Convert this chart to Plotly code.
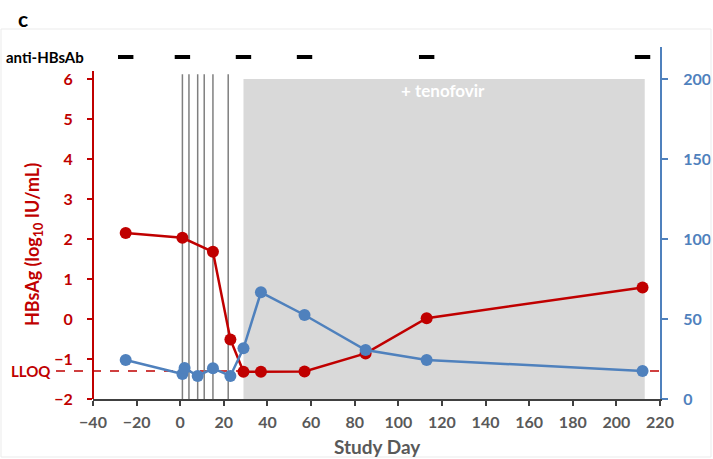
import plotly.graph_objects as go

# ---- data ----
hbsag_days = [-25, 1, 15, 23, 29, 37, 57, 85, 113, 212]
hbsag_log = [2.15, 2.03, 1.68, -0.51, -1.32, -1.32, -1.31, -0.86, 0.02, 0.79]

ab_days = [-25, 1, 2, 8, 15, 23, 29, 37, 57, 85, 113, 212]
ab_values = [24.4, 15.6, 19.4, 14.4, 19.2, 14.4, 31.7, 66.7, 52.5, 30.6, 24.4, 17.5]

anti_hbsab_days = [-25, 1, 29, 57, 113, 212]
dosing_days = [1, 4, 8, 11, 15, 22]
tenofovir_start, tenofovir_end = 29, 213
lloq = -1.3

x_ticks = list(range(-40, 221, 20))
left_ticks = [-2, -1, 0, 1, 2, 3, 4, 5, 6]
right_ticks = [0, 50, 100, 150, 200]

RED = "#C00000"
BLUE = "#4F81BD"
GRAY_TXT = "#595959"
FONT = "Lato"

W, H = 713, 459
PL, PR, PT, PB = 93, 660, 47, 399  # plot-area edges in pixels
L, T = PL, PT
R, B = W - PR, H - PB
pw, ph = W - L - R, H - T - B

def px_x(p):
    return (p - PL) / pw

def px_y(p):
    return (PB - p) / ph

fig = go.Figure()

fig.add_trace(go.Scatter(
    x=hbsag_days, y=hbsag_log, mode="lines+markers",
    line=dict(color=RED, width=2.5), marker=dict(color=RED, size=12),
    yaxis="y", showlegend=False))

fig.add_trace(go.Scatter(
    x=ab_days, y=ab_values, mode="lines+markers",
    line=dict(color=BLUE, width=2.5), marker=dict(color=BLUE, size=12),
    yaxis="y2", showlegend=False))

fig.add_trace(go.Scatter(
    x=anti_hbsab_days, y=[6.55] * len(anti_hbsab_days), mode="markers",
    marker=dict(symbol="line-ew", size=11, line=dict(color="black", width=4)),
    yaxis="y", showlegend=False, cliponaxis=False))

shapes = []
shapes.append(dict(type="rect", xref="x", yref="y", x0=tenofovir_start, x1=tenofovir_end,
                   y0=-2, y1=6, fillcolor="#D9D9D9", line=dict(width=0), layer="below"))
for d in dosing_days:
    shapes.append(dict(type="line", xref="x", yref="y", x0=d, x1=d, y0=-2, y1=6.12,
                       line=dict(color="#7F7F7F", width=1.5), layer="below"))
shapes.append(dict(type="line", xref="paper", yref="y", x0=px_x(56), x1=1, y0=lloq, y1=lloq,
                   line=dict(color=RED, width=1.5, dash="dash"), layer="below"))
shapes.append(dict(type="line", xref="paper", yref="y", x0=0, x1=0, y0=-2, y1=6.2,
                   line=dict(color=RED, width=2)))
shapes.append(dict(type="rect", xref="paper", yref="paper", x0=px_x(1), x1=px_x(711),
                   y0=px_y(457), y1=px_y(29), line=dict(color="#EBEBEB", width=1)))

annotations = [
    dict(text="c", xref="paper", yref="paper", x=px_x(16), y=px_y(19), xanchor="left",
         yanchor="middle", showarrow=False,
         font=dict(family=FONT, size=21, color="black", weight="bold")),
    dict(text="anti-HBsAb", xref="paper", yref="y", x=px_x(4), y=6.55, xanchor="left",
         yanchor="middle", showarrow=False,
         font=dict(family=FONT, size=15, color="black", weight="bold")),
    dict(text="LLOQ", xref="paper", yref="y", x=px_x(53), y=lloq, xanchor="right",
         yanchor="middle", showarrow=False,
         font=dict(family=FONT, size=15, color=RED, weight="bold")),
    dict(text="+ tenofovir", xref="x", yref="y", x=120.5, y=5.72, xanchor="center",
         yanchor="middle", showarrow=False,
         font=dict(family=FONT, size=17, color="white", weight="bold")),
    dict(text="HBsAg (log<sub>10</sub> IU/mL)", xref="paper", yref="paper",
         x=px_x(33), y=px_y(245), xanchor="center", yanchor="middle", textangle=-90,
         showarrow=False, font=dict(family=FONT, size=18, color=RED, weight="bold")),
    dict(text="Study Day", xref="paper", yref="paper", x=px_x(377), y=px_y(446),
         xanchor="center", yanchor="middle", showarrow=False,
         font=dict(family=FONT, size=19, color=GRAY_TXT, weight="bold")),
]

fig.update_layout(
    width=W, height=H, margin=dict(l=L, r=R, t=T, b=B, autoexpand=False),
    paper_bgcolor="white", plot_bgcolor="white",
    shapes=shapes, annotations=annotations, showlegend=False,
    xaxis=dict(range=[-40, 220], tickvals=x_ticks, showgrid=False, zeroline=False,
               automargin=False,
               showline=True, linecolor="#404040", linewidth=1.5,
               ticks="outside", ticklen=5, tickcolor="#404040", tickwidth=1.5,
               ticklabelstandoff=3,
               tickfont=dict(family=FONT, size=16, color=GRAY_TXT, weight="bold")),
    yaxis=dict(range=[-2, 6.8], tickvals=left_ticks, showgrid=False, zeroline=False,
               automargin=False,
               showline=False, ticks="outside", ticklen=5, tickcolor=RED, tickwidth=2,
               ticklabelstandoff=11,
               tickfont=dict(family=FONT, size=16, color=RED, weight="bold")),
    yaxis2=dict(range=[0, 220], tickvals=right_ticks, overlaying="y", side="right",
                automargin=False,
                showgrid=False, zeroline=False, showline=True, linecolor=BLUE, linewidth=2,
                ticks="outside", ticklen=6, tickcolor=BLUE, tickwidth=2,
                ticklabelstandoff=12,
                tickfont=dict(family=FONT, size=16, color=BLUE, weight="bold")),
)

fig.write_html(
    "out.html",
    config={"displayModeBar": False},
    post_script="document.body.style.margin='0';document.body.style.overflow='hidden';",
)
